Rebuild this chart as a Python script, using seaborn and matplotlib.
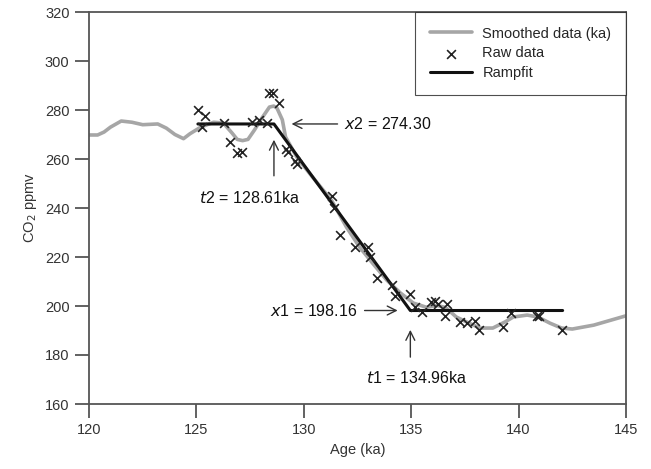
import matplotlib
matplotlib.use("Agg")
import matplotlib.pyplot as plt
import seaborn as sns
import pandas as pd

# Smoothed CO2 record (age in ka, CO2 in ppmv)
smooth_age = [120.0, 120.4, 120.7, 121.0, 121.5, 122.0, 122.5, 123.2, 123.6, 124.0,
              124.4, 124.7, 125.2, 125.8, 126.25, 126.66, 126.9, 127.15, 127.4, 127.7,
              128.05, 128.4, 128.6, 128.75, 129.0, 129.15, 129.7, 130.4, 131.3, 132.0,
              132.6, 133.2, 133.87, 134.5, 135.1, 135.7, 136.2, 136.6, 137.1, 137.7,
              138.2, 138.8, 139.37, 139.75, 140.4, 140.9, 141.46, 142.0, 142.5, 143.5,
              145.0]
smooth_co2 = [269.8, 269.8, 271.0, 273.0, 275.5, 275.0, 274.0, 274.3, 272.6, 270.0,
              268.3, 270.3, 273.0, 275.0, 274.7, 270.6, 268.0, 267.5, 268.0, 271.8,
              276.7, 281.2, 281.6, 280.8, 276.0, 269.0, 260.4, 252.7, 243.0, 232.0,
              224.0, 217.5, 210.5, 205.3, 201.2, 199.5, 200.2, 199.4, 195.5, 193.0,
              191.0, 191.0, 193.5, 195.5, 196.3, 195.5, 193.0, 191.0, 190.6, 192.2,
              196.0]

# Raw CO2 measurements
raw_age = [125.07, 125.4, 125.26, 126.3, 126.56, 126.9, 127.1, 127.6, 127.9, 128.3,
           128.4, 128.57, 128.85, 129.17, 129.26, 129.6, 129.7, 131.3, 131.4, 131.7,
           132.4, 133.0, 133.08, 133.4, 134.1, 134.25, 134.95, 135.2, 135.5, 135.9,
           136.1, 136.25, 136.67, 136.57, 137.27, 137.6, 137.97, 138.16, 139.27, 139.65,
           140.86, 140.95, 142.0]
raw_co2 = [280.0, 277.5, 273.0, 274.5, 267.0, 262.5, 263.0, 275.0, 276.0, 274.5,
           287.0, 287.0, 283.0, 264.0, 263.0, 259.0, 258.0, 245.0, 240.0, 229.0,
           224.0, 224.0, 220.0, 211.5, 208.5, 204.0, 205.0, 199.5, 197.5, 201.5,
           202.0, 201.0, 201.0, 196.0, 193.5, 193.0, 194.0, 190.0, 191.5, 197.0,
           196.0, 196.0, 190.0]

# Ramp fit parameters
t_start, t2, t1, t_end = 125.07, 128.61, 134.96, 142.05
x2, x1 = 274.30, 198.16
ramp_age = [t_start, t2, t1, t_end]
ramp_co2 = [x2, x2, x1, x1]

sns.set_style("white")
plt.rcParams["font.family"] = ["Liberation Sans", "DejaVu Sans"]

fig = plt.figure(figsize=(6.51, 4.69), dpi=100)
ax = fig.add_axes([89 / 651, 1 - 404 / 469, (626 - 89) / 651, (404 - 12) / 469])

sm = pd.DataFrame({"age": smooth_age, "co2": smooth_co2})
rw = pd.DataFrame({"age": raw_age, "co2": raw_co2})
rp = pd.DataFrame({"age": ramp_age, "co2": ramp_co2})

sns.lineplot(data=sm, x="age", y="co2", ax=ax, color="#a6a6a6", lw=2.6,
             sort=False, label="Smoothed data (ka)", zorder=2,
             solid_joinstyle="round", solid_capstyle="round")
sns.scatterplot(data=rw, x="age", y="co2", ax=ax, marker="x", color="#222222",
                s=40, linewidth=1.2, label="Raw data", zorder=4)
sns.lineplot(data=rp, x="age", y="co2", ax=ax, color="#111111", lw=2.2,
             sort=False, label="Rampfit", zorder=3)

ax.set_xlim(120, 145)
ax.set_ylim(160, 320)
ax.set_xticks([120, 125, 130, 135, 140, 145])
ax.set_yticks(list(range(160, 321, 20)))
ax.set_xlabel("Age (ka)", fontsize=10.5, color="#333333", labelpad=4)
ax.set_ylabel("CO$_2$ ppmv", fontsize=10.5, color="#333333", labelpad=4)

for sp in ax.spines.values():
    sp.set_color("#555555")
    sp.set_linewidth(1.3)
ax.tick_params(axis="both", which="major", direction="out", length=10, width=1.3,
               color="#555555", labelcolor="#333333", labelsize=10.5,
               left=True, bottom=True, top=False, right=False, pad=4)

leg = ax.legend(loc="upper right", borderaxespad=0, fancybox=False,
                frameon=True, fontsize=10.5, handlelength=2.9,
                borderpad=1.0, labelspacing=0.4, handletextpad=0.7)
leg.get_frame().set_edgecolor("#222222")
leg.get_frame().set_linewidth(0.8)

arrow = dict(arrowstyle="->", color="#333333", lw=1.0, mutation_scale=16)
fs = 11.5
# x2 marker
ax.annotate("", xy=(129.3, x2), xytext=(131.7, x2), arrowprops=arrow)
ax.text(131.85, x2, f"$x$2 = {x2:.2f}", fontsize=fs, va="center", ha="left",
        color="#111111")
# t2 marker
ax.annotate("", xy=(t2, 269.0), xytext=(t2, 252.0), arrowprops=arrow)
ax.text(127.5, 244.0, f"$t$2 = {t2:.2f}ka", fontsize=fs, va="center", ha="center",
        color="#111111")
# x1 marker
ax.annotate("", xy=(134.5, x1), xytext=(132.7, x1), arrowprops=arrow)
ax.text(132.5, x1, f"$x$1 = {x1:.2f}", fontsize=fs, va="center", ha="right",
        color="#111111")
# t1 marker
ax.annotate("", xy=(t1, 191.4), xytext=(t1, 178.0), arrowprops=arrow)
ax.text(135.27, 170.6, f"$t$1 = {t1:.2f}ka", fontsize=fs, va="center", ha="center",
        color="#111111")

fig.savefig("out.png", dpi=100)
